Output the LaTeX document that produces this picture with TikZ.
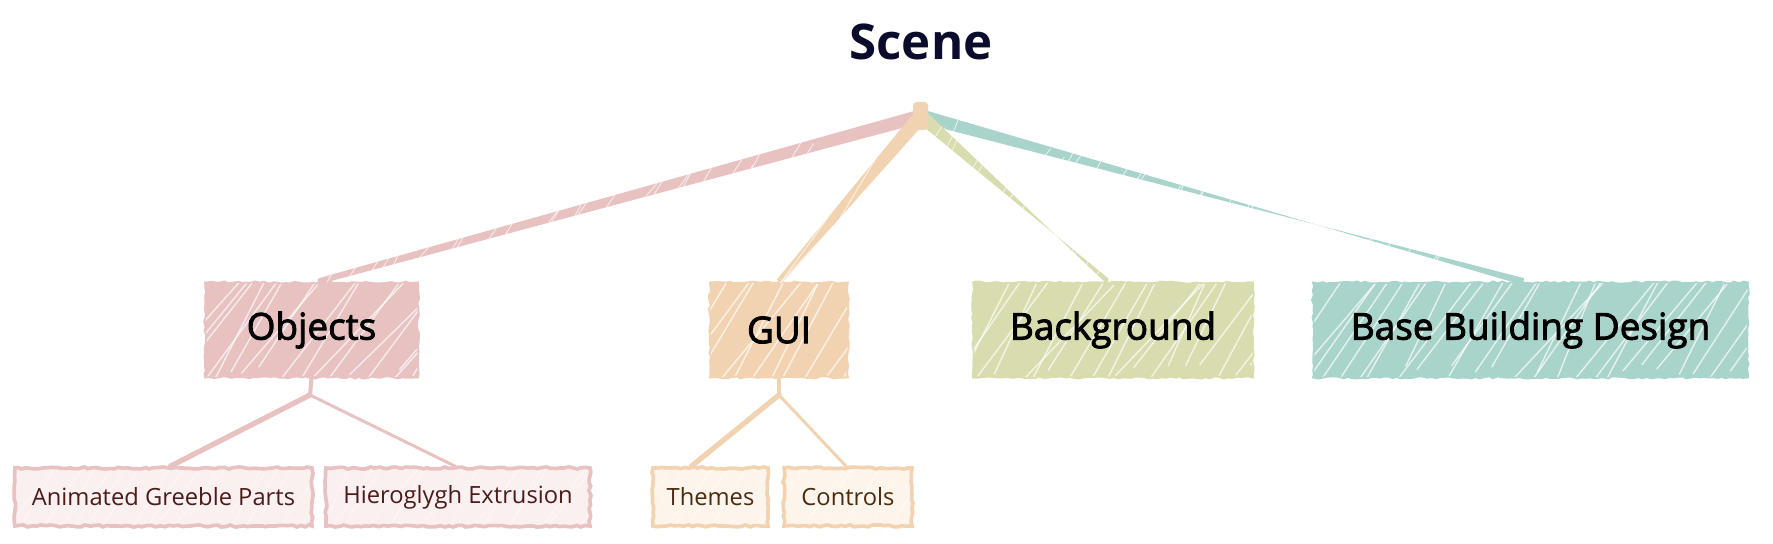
\documentclass[tikz,border=0pt]{standalone}
\usepackage{fontspec}
\setmainfont{Open Sans}
\newfontfamily\topicfont{Open Sans}[FakeBold=2.4]
\usetikzlibrary{calc,decorations.pathmorphing}

\definecolor{pinkc}{HTML}{E7C2C1}
\definecolor{peachc}{HTML}{F2D3B1}
\definecolor{olivec}{HTML}{D9DCAE}
\definecolor{tealc}{HTML}{A9D4CB}
\definecolor{pinkl}{HTML}{FAF0EF}
\definecolor{peachl}{HTML}{FDF5EB}
\definecolor{titlec}{HTML}{0B0B2B}
\definecolor{pinkt}{HTML}{4A1C1C}
\definecolor{peacht}{HTML}{4A2C0E}

\begin{document}
\begin{tikzpicture}[x=0.2mm,y=-0.2mm,
rough/.style={decorate,decoration={random steps,segment length=2.5pt,amplitude=0.6pt}},
hatch/.style={path picture={\foreach \k in {0,...,40}{
\draw[white,line width=#1,opacity=0.7,line cap=round] ([xshift=\k*3.4mm-36mm+rand*0.8mm,yshift=rand*3mm]path picture bounding box.south west) -- ++(57:32mm+rand*8mm);}}},
topic/.style={rough,fill=#1,draw=#1,line width=1pt,hatch=0.8pt,
minimum height=19mm,inner sep=2mm,font=\fontsize{21}{25}\topicfont,text=black},
subtopic/.style={rough,fill=#1,line width=2.1pt,hatch=0.3pt,
minimum height=11.6mm,inner sep=1mm,font=\fontsize{13.5}{16}\selectfont},
trunk/.style={fill=#1,hatch=0.5pt},
twig/.style={draw=#1,line cap=round}]
\useasboundingbox (0,0) rectangle (1773,544);
\pgfmathsetseed{7}
\node[font=\fontsize{28}{32}\selectfont\bfseries,text=titlec] (scene) at (921,42) {Scene};
\coordinate (root) at (921,116);
\node[topic=pinkc,minimum width=42.6mm] (objects) at (311.5,330) {Objects};
\node[topic=peachc,minimum width=27.6mm] (gui) at (779,330) {GUI};
\node[topic=olivec,minimum width=56mm] (background) at (1113,330) {Background};
\node[topic=tealc,minimum width=87mm] (basedesign) at (1530.5,330) {Base Building Design};
\node[subtopic=pinkl,draw=pinkc,text=pinkt,minimum width=59.4mm] (greeble) at (163.5,497) {Animated Greeble Parts};
\node[subtopic=pinkl,draw=pinkc,text=pinkt,minimum width=52.8mm] (extrusion) at (458,497) {Hieroglygh Extrusion};
\node[subtopic=peachl,draw=peachc,text=peacht,minimum width=23mm] (themes) at (710.5,497) {Themes};
\node[subtopic=peachl,draw=peachc,text=peacht,minimum width=25.6mm] (controls) at (848,497) {Controls};
% branches from the scene root
\fill[trunk=pinkc] ($(root)!3.8pt!90:(objects.north)$) -- ($(root)!3.8pt!-90:(objects.north)$) -- ($(objects.north)+(6,0)!1.8pt!90:(root)$) -- ($(objects.north)+(6,0)!1.8pt!-90:(root)$) -- cycle;
\fill[trunk=tealc] ($(root)!3.8pt!90:(basedesign.north)$) -- ($(root)!3.8pt!-90:(basedesign.north)$) -- ($(basedesign.north)+(-7,0)!2pt!90:(root)$) -- ($(basedesign.north)+(-7,0)!2pt!-90:(root)$) -- cycle;
\fill[trunk=olivec] ($(root)!3.8pt!90:(background.north)$) -- ($(root)!3.8pt!-90:(background.north)$) -- ($(background.north)+(-5,0)!1.8pt!90:(root)$) -- ($(background.north)+(-5,0)!1.8pt!-90:(root)$) -- cycle;
\fill[trunk=peachc] ($(root)!4.2pt!90:(gui.north)$) -- ($(root)!4.2pt!-90:(gui.north)$) -- ($(gui.north)!1.7pt!90:(root)$) -- ($(gui.north)!1.7pt!-90:(root)$) -- cycle;
\fill[peachc,rounded corners=2pt] ($(root)+(-8,-14)$) rectangle ($(root)+(7,14)$);
% sub branches
\coordinate (objfork) at (310,395);
\coordinate (guifork) at (779,395);
\draw[twig=pinkc,line width=2.3pt] (objects.south) -- (objfork);
\draw[twig=pinkc,line width=3pt] (objfork) -- ($(greeble.north)+(7,0)$);
\draw[twig=pinkc,line width=1.7pt] (objfork) -- ($(extrusion.north)+(-3,0)$);
\draw[twig=peachc,line width=2.3pt] (gui.south) -- (guifork);
\draw[twig=peachc,line width=3pt] (guifork) -- ($(themes.north)+(-19,0)$);
\draw[twig=peachc,line width=1.7pt] (guifork) -- ($(controls.north)+(-2,0)$);
\end{tikzpicture}
\end{document}
